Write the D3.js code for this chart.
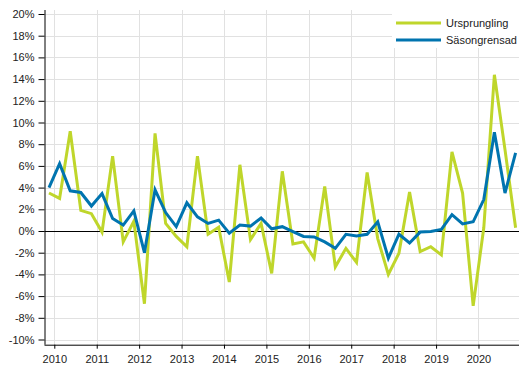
<!DOCTYPE html>
<html>
<head>
<meta charset="utf-8">
<script src="https://cdn.jsdelivr.net/npm/d3@7"></script>
<style>
	body { margin: 0; background: #fff; }
	#chart { width: 529px; height: 378px; }
	text { font-family: "Liberation Sans", Arial, sans-serif; }
</style>
</head>
<body>
<div id="chart"></div>
<script>
// quarters 2009Q4 .. 2020Q4
const quarters = [
	"2009Q4",
	"2010Q1", "2010Q2", "2010Q3", "2010Q4",
	"2011Q1", "2011Q2", "2011Q3", "2011Q4",
	"2012Q1", "2012Q2", "2012Q3", "2012Q4",
	"2013Q1", "2013Q2", "2013Q3", "2013Q4",
	"2014Q1", "2014Q2", "2014Q3", "2014Q4",
	"2015Q1", "2015Q2", "2015Q3", "2015Q4",
	"2016Q1", "2016Q2", "2016Q3", "2016Q4",
	"2017Q1", "2017Q2", "2017Q3", "2017Q4",
	"2018Q1", "2018Q2", "2018Q3", "2018Q4",
	"2019Q1", "2019Q2", "2019Q3", "2019Q4",
	"2020Q1", "2020Q2", "2020Q3", "2020Q4",
]

const ursprungling = [
	3.5, 3.0, 9.2, 1.9, 1.6, -0.1, 6.9, -1.0, 0.9, -6.7,
	9.0, 0.7, -0.5, -1.45, 6.9, -0.3, 0.35, -4.7, 6.1, -0.8,
	0.7, -3.9, 5.5, -1.2, -1.0, -2.5, 4.1, -3.3, -1.6, -2.9,
	5.4, -0.7, -4.0, -2.05, 3.6, -1.9, -1.45, -2.2, 7.3, 3.5,
	-6.9, 0.3, 14.4, 7.5, 0.3,
]

const sasongrensad = [
	4.0, 6.2, 3.7, 3.55, 2.3, 3.45, 1.15, 0.55, 1.85, -2.0,
	3.8, 1.7, 0.4, 2.6, 1.3, 0.7, 1.0, -0.2, 0.55, 0.45,
	1.2, 0.2, 0.4, -0.05, -0.5, -0.55, -1.0, -1.6, -0.3, -0.45,
	-0.3, 0.85, -2.5, -0.3, -1.1, -0.1, -0.05, 0.15, 1.5, 0.65,
	0.85, 2.9, 9.1, 3.5, 7.2,
]

const yearLabels = ["2010", "2011", "2012", "2013", "2014", "2015", "2016", "2017", "2018", "2019", "2020"]
const yTicks = [-10, -8, -6, -4, -2, 0, 2, 4, 6, 8, 10, 12, 14, 16, 18, 20]

const seriesDefs = [
	{ label: "Ursprungling", values: ursprungling, color: "#bfd62b" },
	{ label: "Säsongrensad", values: sasongrensad, color: "#0074af" },
]

const W = 529
const H = 378
const plot = { left: 44.5, right: 519, top: 10, bottom: 344.7 }

const svg = d3
	.select("#chart")
	.append("svg")
	.attr("width", W)
	.attr("height", H)

const xScale = d3.scaleLinear().domain([0, quarters.length - 1]).range([49, 515.6])
const yScale = d3.scaleLinear().domain([-10, 20]).range([339.5, 14])

// year ticks sit on the boundary between Q4 and Q1
const yearPos = yearLabels.map((y) => quarters.indexOf(y + "Q1") - 0.5)

// Gridlines
svg.append("g")
	.selectAll("line")
	.data(yTicks)
	.join("line")
	.attr("x1", plot.left)
	.attr("x2", plot.right)
	.attr("y1", (d) => Math.round(yScale(d)) + 0.5)
	.attr("y2", (d) => Math.round(yScale(d)) + 0.5)
	.attr("stroke", "#e1e1e1")
	.attr("stroke-width", 1)

svg.append("g")
	.selectAll("line")
	.data(yearPos)
	.join("line")
	.attr("x1", (d) => Math.round(xScale(d)) + 0.5)
	.attr("x2", (d) => Math.round(xScale(d)) + 0.5)
	.attr("y1", plot.top)
	.attr("y2", plot.bottom)
	.attr("stroke", "#e1e1e1")
	.attr("stroke-width", 1)

// Zero line
svg.append("line")
	.attr("x1", plot.left)
	.attr("x2", plot.right)
	.attr("y1", Math.round(yScale(0)) + 0.5)
	.attr("y2", Math.round(yScale(0)) + 0.5)
	.attr("stroke", "#000")
	.attr("stroke-width", 1)

// Lines
const line = d3
	.line()
	.x((d, i) => xScale(i))
	.y((d) => yScale(d))

seriesDefs.forEach((s) => {
	svg.append("path")
		.datum(s.values)
		.attr("fill", "none")
		.attr("stroke", s.color)
		.attr("stroke-width", 3)
		.attr("stroke-linejoin", "miter")
		.attr("d", line)
})

// Y axis
const yAxis = svg
	.append("g")
	.attr("transform", `translate(${plot.left},0)`)
	.call(
		d3.axisLeft(yScale)
			.tickValues(yTicks)
			.tickSize(6)
			.tickPadding(4)
			.tickFormat((d) => d + "%")
	)
yAxis.select(".domain").attr("d", `M0.5,${plot.top}V${plot.bottom}`).attr("stroke", "#000")

// X axis
const xAxis = svg
	.append("g")
	.attr("transform", `translate(0,${plot.bottom})`)
	.call(
		d3.axisBottom(xScale)
			.tickValues(yearPos)
			.tickSize(4)
			.tickPadding(7)
			.tickFormat((d, i) => yearLabels[i])
	)
xAxis.select(".domain").attr("d", `M${plot.left},0.5H${plot.right}`).attr("stroke", "#000")

svg.selectAll(".tick line").attr("stroke", "#000")
svg.selectAll(".tick text")
	.style("font-size", "11px")
	.style("font-family", "'Liberation Sans', Arial, sans-serif")
	.attr("fill", "#222")

// Legend
const legend = svg.append("g").attr("transform", "translate(392,10)")
legend.append("rect")
	.attr("width", 127)
	.attr("height", 38)
	.attr("fill", "#fff")

seriesDefs.forEach((s, i) => {
	const row = legend.append("g").attr("transform", `translate(4,${13 + i * 17})`)
	row.append("line")
		.attr("x1", 0)
		.attr("x2", 45)
		.attr("stroke", s.color)
		.attr("stroke-width", 3)
	row.append("text")
		.attr("x", 50)
		.attr("y", 4)
		.style("font-size", "11px")
		.attr("fill", "#222")
		.text(s.label)
})
</script>
</body>
</html>
